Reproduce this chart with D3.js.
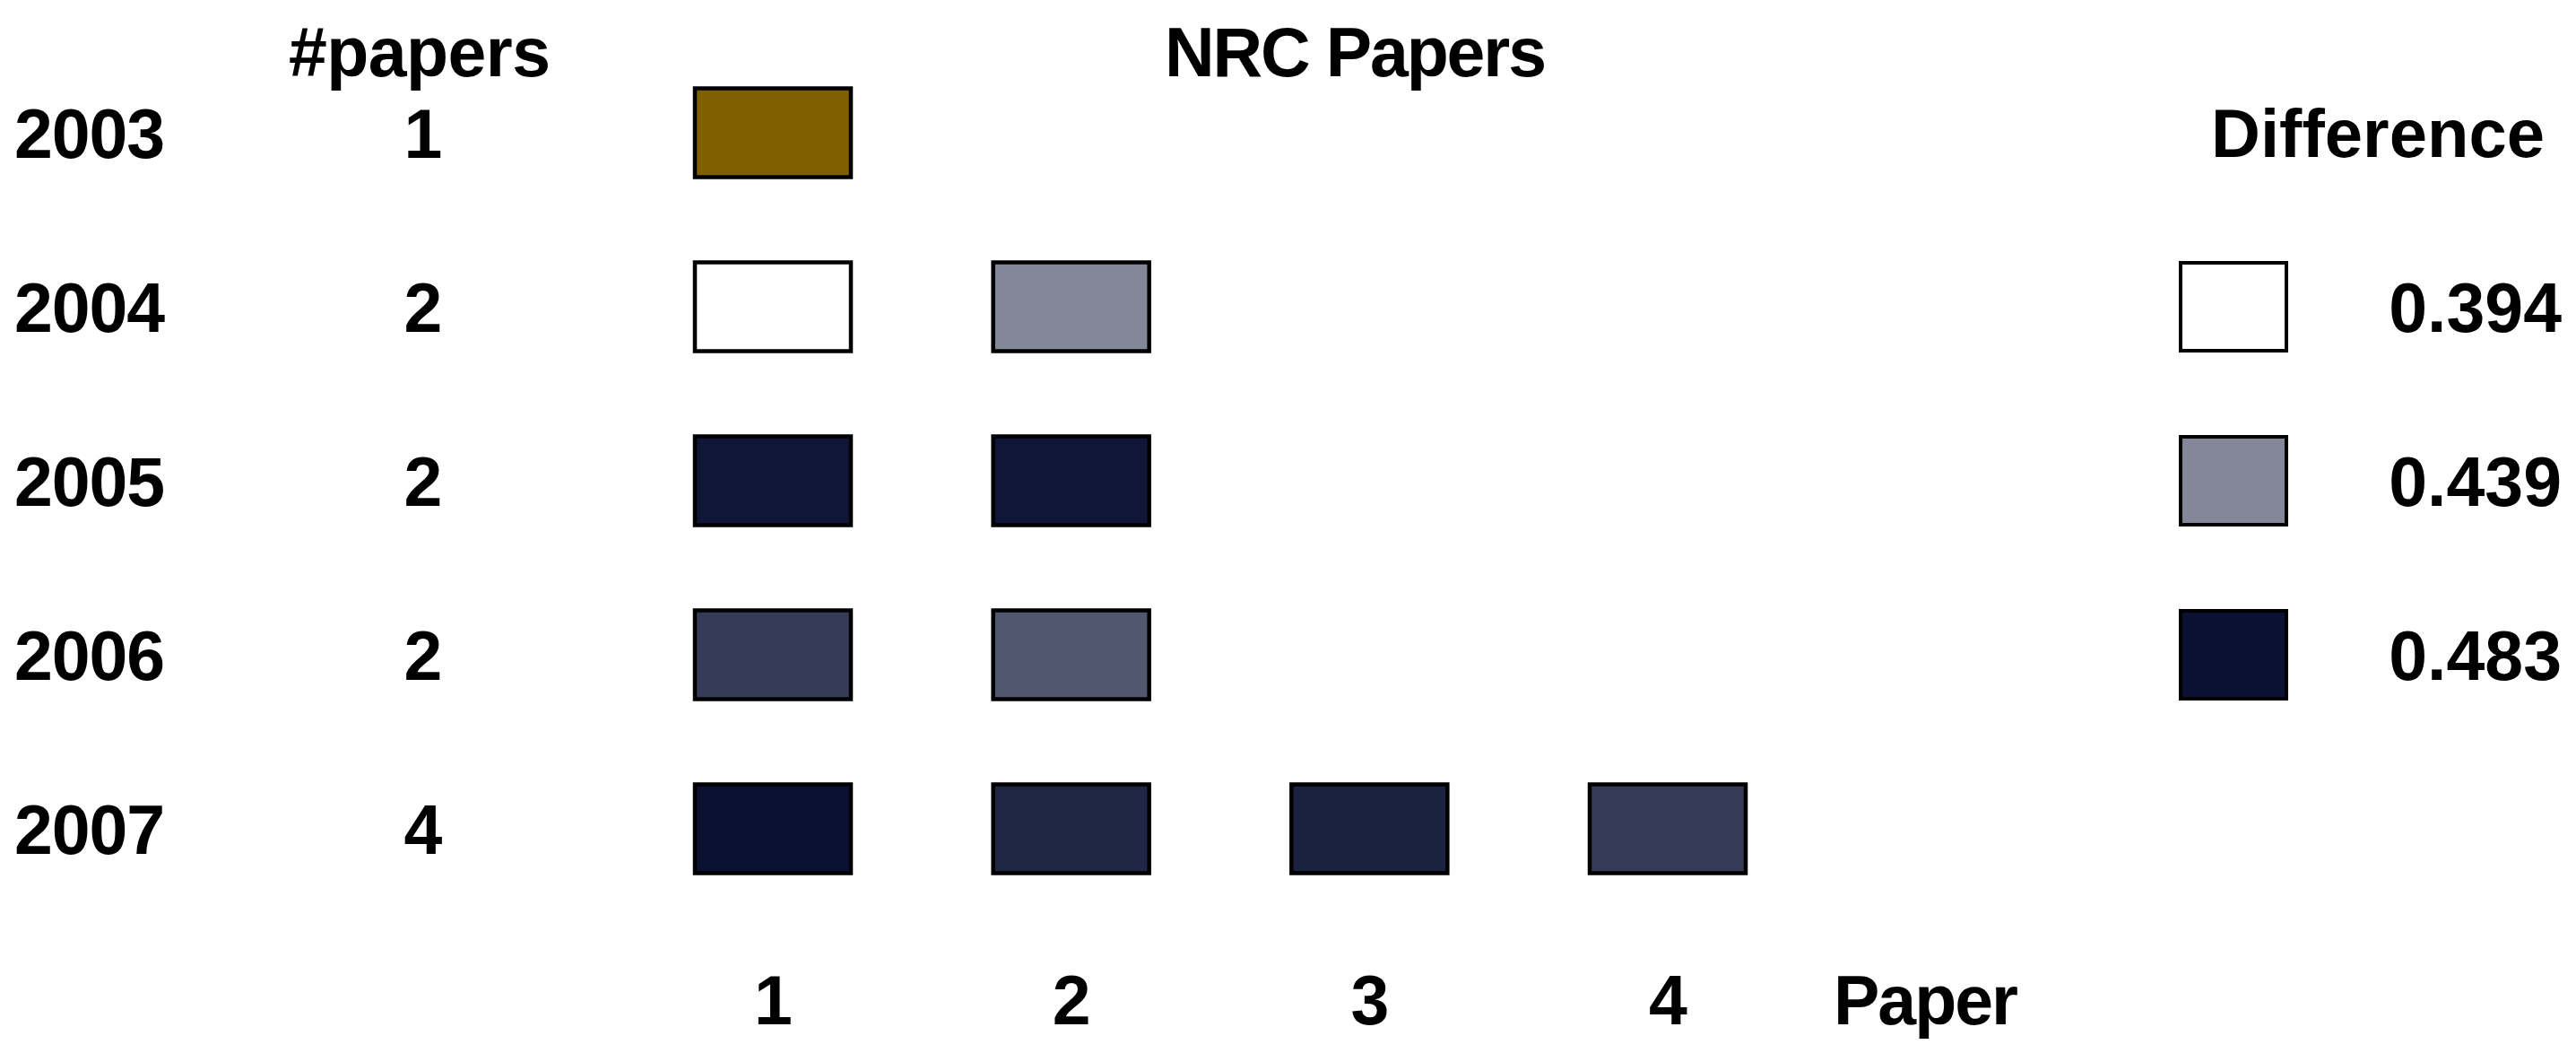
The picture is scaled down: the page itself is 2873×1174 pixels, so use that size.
<!DOCTYPE html>
<html>
<head>
<meta charset="utf-8">
<script src="https://cdn.jsdelivr.net/npm/d3@7"></script>
<style>
  body { margin: 0; background: #fff; }
  text { font-family: "Liberation Sans", Arial, sans-serif; font-weight: bold; fill: #000; }
</style>
</head>
<body>
<div id="chart"></div>
<script>
// chart data
var years = ["2003", "2004", "2005", "2006", "2007"];
var paperCounts = [1, 2, 2, 2, 4];
// difference value for each NRC paper of the year (null = reference paper)
var differences = [
    [null],
    [0.394, 0.439],
    [0.481, 0.481],
    [0.467, 0.457],
    [0.483, 0.475, 0.477, 0.467]
];
var legendValues = [0.394, 0.439, 0.483];
var paperTicks = [1, 2, 3, 4];

var svgWidth = 2873;
var svgHeight = 1174;

var svg = d3.select("#chart")
    .append("svg")
    .attr("width", svgWidth)
    .attr("height", svgHeight);

// scales
var yScale = d3.scalePoint()
    .domain(years)
    .range([148, 924]);

var xScale = d3.scaleLinear()
    .domain([1, 4])
    .range([862, 1860]);

var colorScale = d3.scaleLinear()
    .domain(legendValues)
    .range(["#ffffff", "#838899", "#0a1133"])
    .clamp(true);

var refColor = "#7f5f00";
var boxW = 174, boxH = 99;
var fs = "77px";

function fillFor(v) {
    return v === null ? refColor : colorScale(v);
}

// headers
svg.append("text")
    .attr("x", 468).attr("y", 85)
    .attr("text-anchor", "middle")
    .attr("font-size", fs)
    .attr("textLength", 292)
    .text("#papers");

svg.append("text")
    .attr("x", 1512).attr("y", 85)
    .attr("text-anchor", "middle")
    .attr("font-size", fs)
    .attr("textLength", 426)
    .text("NRC Papers");

// year labels and counts
svg.selectAll(".year")
    .data(years)
    .enter()
    .append("text")
    .attr("class", "year")
    .attr("x", 16)
    .attr("y", d => yScale(d))
    .attr("dy", "0.37em")
    .attr("font-size", fs)
    .attr("textLength", 168)
    .text(d => d);

svg.selectAll(".count")
    .data(years)
    .enter()
    .append("text")
    .attr("class", "count")
    .attr("x", 472)
    .attr("y", d => yScale(d))
    .attr("dy", "0.37em")
    .attr("text-anchor", "middle")
    .attr("font-size", fs)
    .text((d, i) => paperCounts[i]);

// cells
var cells = [];
years.forEach(function(yr, i) {
    differences[i].forEach(function(v, j) {
        cells.push({year: yr, paper: j + 1, value: v});
    });
});

svg.selectAll(".cell")
    .data(cells)
    .enter()
    .append("rect")
    .attr("class", "cell")
    .attr("x", d => xScale(d.paper) - boxW / 2)
    .attr("y", d => yScale(d.year) - boxH / 2)
    .attr("width", boxW)
    .attr("height", boxH)
    .attr("fill", d => fillFor(d.value))
    .attr("stroke", "#000")
    .attr("stroke-width", 4.5);

// paper axis at bottom
var bottomAxis = d3.axisBottom(xScale)
    .tickValues(paperTicks)
    .tickFormat(d3.format("d"))
    .tickSize(0);

var axisG = svg.append("g")
    .attr("transform", "translate(0, 1087)")
    .call(bottomAxis);
axisG.select(".domain").remove();
axisG.selectAll("text")
    .attr("font-size", fs)
    .attr("font-family", "Liberation Sans, Arial, sans-serif")
    .attr("fill", "#000")
    .attr("dy", "0.71em")
    .attr("y", 0);

svg.append("text")
    .attr("x", 2045).attr("y", 1142)
    .attr("font-size", fs)
    .attr("textLength", 206)
    .text("Paper");

// legend
svg.append("text")
    .attr("x", 2466)
    .attr("y", yScale(years[0]))
    .attr("dy", "0.36em")
    .attr("font-size", "76px")
    .attr("textLength", 372)
    .text("Difference");

var legend = svg.selectAll(".legend")
    .data(legendValues)
    .enter()
    .append("g")
    .attr("class", "legend")
    .attr("transform", (d, i) => `translate(0, ${yScale(years[i + 1])})`);

legend.append("rect")
    .attr("x", 2432)
    .attr("y", -49)
    .attr("width", 118)
    .attr("height", 98)
    .attr("fill", d => colorScale(d))
    .attr("stroke", "#000")
    .attr("stroke-width", 4);

legend.append("text")
    .attr("x", 2857)
    .attr("dy", "0.36em")
    .attr("text-anchor", "end")
    .attr("font-size", fs)
    .text(d => d3.format(".3f")(d));
</script>
</body>
</html>
